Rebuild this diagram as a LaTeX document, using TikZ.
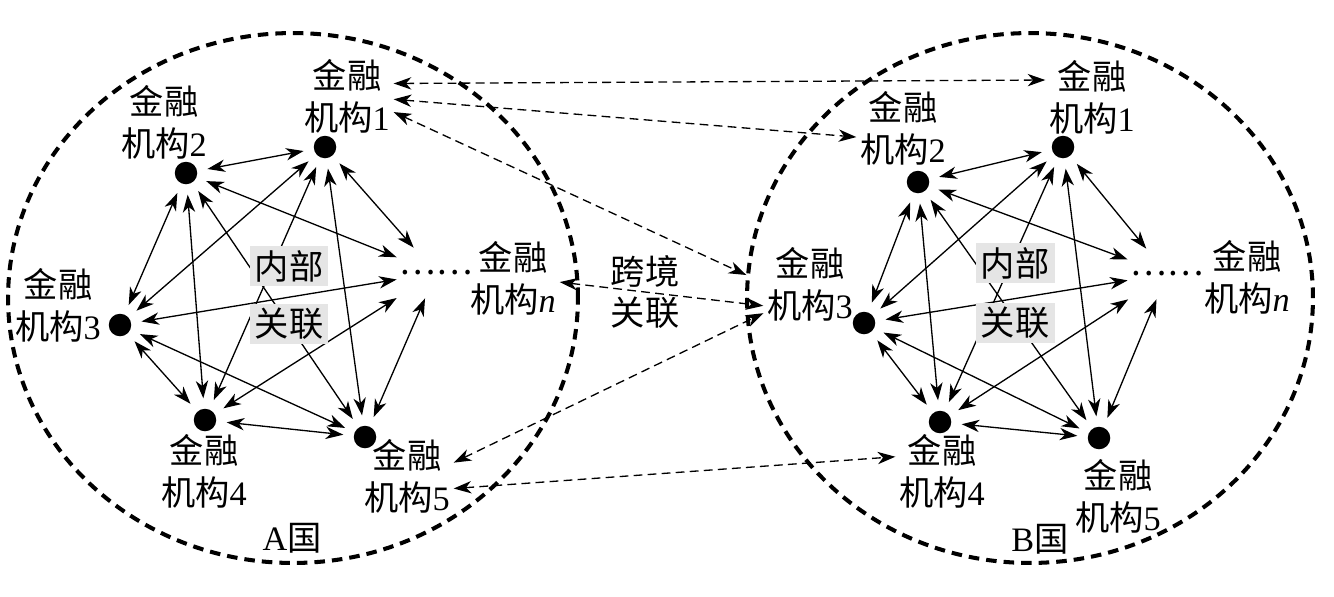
\documentclass[tikz,border=0pt]{standalone}
\usepackage{fontspec}
\setmainfont{Liberation Serif}
\newfontfamily\cjk{Noto Sans CJK SC}
\usetikzlibrary{arrows.meta}

\newcommand{\jgname}[1]{{\cjk 金融}\\{\cjk 机构}#1}

\tikzset{
    instdot/.style={circle, fill=black, minimum size=0.45cm, inner sep=0pt, outer sep=6pt},
    dotsnode/.style={minimum width=1.56cm, minimum height=1cm, inner sep=0pt},
    lbl/.style={align=center, inner sep=2pt},
    inlabel/.style={fill=gray!20, minimum width=1.58cm, minimum height=0.8cm, inner sep=0pt},
    link/.style={line width=0.75pt, {Stealth[length=10pt,width=7pt,inset=3pt]}-{Stealth[length=10pt,width=7pt,inset=3pt]}},
    crosslink/.style={link, dash pattern=on 5pt off 3pt},
    country/.style={line width=2.3pt, dash pattern=on 6pt off 4pt}
}

\begin{document}
\begin{tikzpicture}[x=0.02cm, y=-0.02cm, every node/.append style={font=\fontsize{19.5}{23.8}\selectfont}]
    \useasboundingbox (0,0) rectangle (1334,596);
    % two countries
    \draw[country] (293,298) ellipse [x radius=5.7cm, y radius=5.3cm];
    \draw[country] (1030,298) ellipse [x radius=5.66cm, y radius=5.3cm];
    % institutions of A
    \node[instdot] (a1) at (325,147) {};
    \node[instdot] (a2) at (186,173) {};
    \node[instdot] (a3) at (120,325) {};
    \node[instdot] (a4) at (205,420) {};
    \node[instdot] (a5) at (365,437) {};
    \node[dotsnode] (an) at (436,273) {\cjk ……};
    % institutions of B
    \node[instdot] (b1) at (1063,147) {};
    \node[instdot] (b2) at (918,182) {};
    \node[instdot] (b3) at (864,323) {};
    \node[instdot] (b4) at (940,422) {};
    \node[instdot] (b5) at (1099,438) {};
    \node[dotsnode] (bn) at (1167,274) {\cjk ……};
    % internal links
    \foreach \s in {a,b}
        \foreach \u/\v in {1/2,1/3,1/4,1/5,1/n,2/3,2/4,2/5,2/n,3/4,3/5,3/n,4/5,4/n,5/n}
            \draw[link] (\s\u) -- (\s\v);
    \node[inlabel] (ina) at (289,266) {\cjk 内部};
    \node[inlabel] (gla) at (289,324) {\cjk 关联};
    \node[inlabel] (inb) at (1015,263) {\cjk 内部};
    \node[inlabel] (glb) at (1015,323) {\cjk 关联};
    % names
    \node[lbl] (la1) at (347,96) {\jgname{1}};
    \node[lbl] (la2) at (164,122) {\jgname{2}};
    \node[lbl] (la3) at (58,305) {\jgname{3}};
    \node[lbl] (la4) at (204,471) {\jgname{4}};
    \node[lbl] (la5) at (407,476) {\jgname{5}};
    \node[lbl] (lan) at (513,278) {\jgname{\textit{n}}};
    \node[lbl] (lb1) at (1092,97) {\jgname{1}};
    \node[lbl] (lb2) at (903,128) {\jgname{2}};
    \node[lbl] (lb3) at (810,284) {\jgname{3}};
    \node[lbl] (lb4) at (942,471) {\jgname{4}};
    \node[lbl] (lb5) at (1118,496) {\jgname{5}};
    \node[lbl] (lbn) at (1247,277) {\jgname{\textit{n}}};
    \node (ca) at (292,538) {A{\cjk 国}};
    \node (cb) at (1040,539) {B{\cjk 国}};
    \node[lbl] (kj) at (645,292) {{\cjk 跨境}\\{\cjk 关联}};
    % cross-border links
    \draw[crosslink] (la1.15) -- (lb1.160);
    \draw[crosslink] (la1.-4) -- (lb2.191);
    \draw[crosslink] (la1.-19) -- ([shift={(-17,-9)}]lb3.west);
    \draw[crosslink] (lan.-5) -- (lb3.205);
    \draw[crosslink] (la5.16) -- (lb3.212);
    \draw[crosslink] (la5.-15) -- (lb4.163);
\end{tikzpicture}
\end{document}
